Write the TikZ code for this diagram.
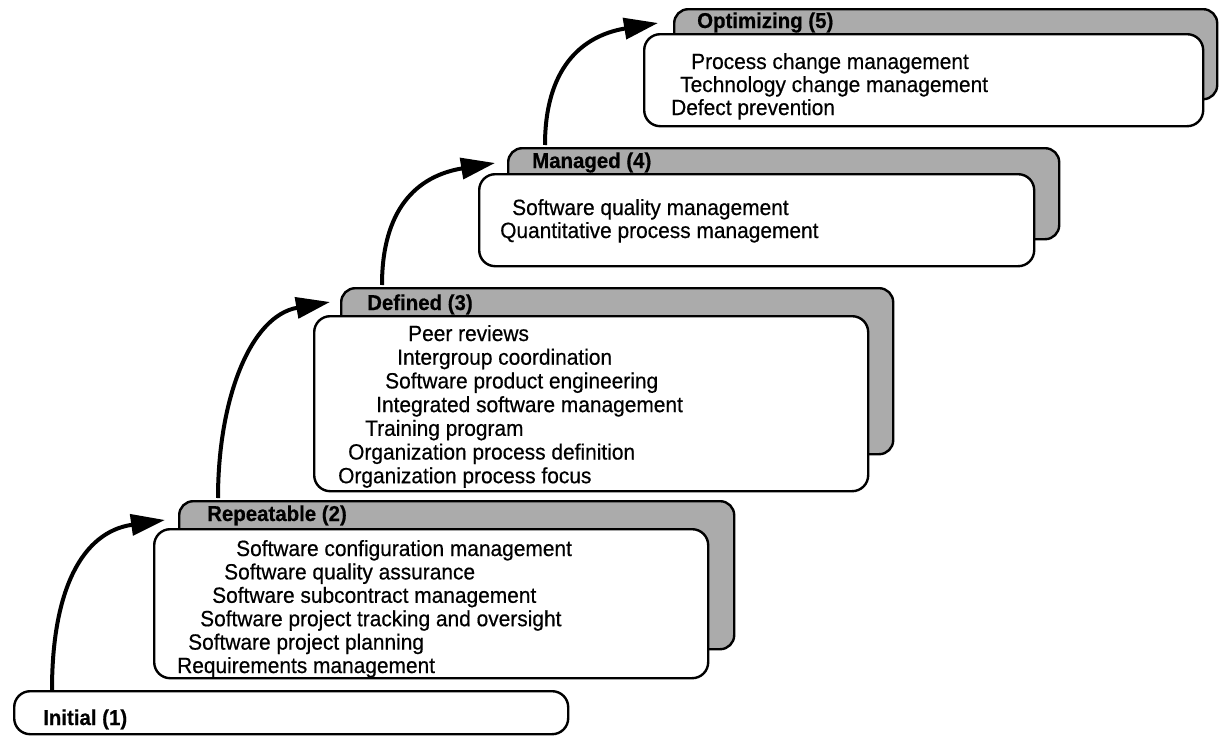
\documentclass[tikz,border=0pt]{standalone}
\usepackage{fontspec}
\setmainfont{Liberation Sans}[FakeBold=0.5,FakeStretch=0.95]
\usetikzlibrary{arrows.meta}
\begin{document}
\begin{tikzpicture}[x=1pt,y=-1pt,
  tabbox/.style={draw=black, line width=2.4pt, fill=black!33, rounded corners=14pt, anchor=north west, inner sep=0pt},
  card/.style={draw=black, line width=2.4pt, fill=white, rounded corners=16pt, anchor=north west, inner sep=0pt},
  item/.style={anchor=base west, inner sep=0pt, font=\fontsize{22}{25}\selectfont},
  tablabel/.style={anchor=base west, inner sep=0pt, font=\fontsize{21.5}{25}\selectfont\bfseries},
  stepArrow/.style={line width=4pt, -{Triangle[length=34pt,width=21pt]}}]
\useasboundingbox (0,0) rectangle (1219,736);

% Initial (1)
\node[card, minimum width=554pt, minimum height=43pt] (init) at (13,690) {};
\node[tablabel] (initlbl) at (43,725) {Initial (1)};

% Repeatable (2)
\node[tabbox, minimum width=555pt, minimum height=148pt] (reptab) at (178,500) {};
\node[card, minimum width=554pt, minimum height=149pt] (rep) at (153,528) {};
\node[tablabel] (replbl) at (207,521) {Repeatable (2)};
\node[item] (r1) at (236,556) {Software configuration management};
\node[item] (r2) at (224,579.4) {Software quality assurance};
\node[item] (r3) at (212,602.8) {Software subcontract management};
\node[item] (r4) at (200,626.2) {Software project tracking and oversight};
\node[item] (r5) at (188,649.6) {Software project planning};
\node[item] (r6) at (177,673) {Requirements management};

% Defined (3)
\node[tabbox, minimum width=552pt, minimum height=166pt] (deftab) at (340,287) {};
\node[card, minimum width=554pt, minimum height=175pt] (def) at (313,315) {};
\node[tablabel] (deflbl) at (367,310) {Defined (3)};
\node[item] (d1) at (408,341) {Peer reviews};
\node[item] (d2) at (397,364.7) {Intergroup coordination};
\node[item] (d3) at (385,388.4) {Software product engineering};
\node[item] (d4) at (376,412.1) {Integrated software management};
\node[item] (d5) at (365,435.8) {Training program};
\node[item] (d6) at (348,459.5) {Organization process definition};
\node[item] (d7) at (338,483.2) {Organization process focus};

% Managed (4)
\node[tabbox, minimum width=551pt, minimum height=91pt] (mantab) at (507,147) {};
\node[card, minimum width=555pt, minimum height=92pt] (man) at (478,173) {};
\node[tablabel] (manlbl) at (532,168) {Managed (4)};
\node[item] (m1) at (512,215) {Software quality management};
\node[item] (m2) at (500,238) {Quantitative process management};

% Optimizing (5)
\node[tabbox, minimum width=543pt, minimum height=90pt] (opttab) at (673,8) {};
\node[card, minimum width=559pt, minimum height=92pt] (opt) at (643,33) {};
\node[tablabel] (optlbl) at (697,28) {Optimizing (5)};
\node[item] (o1) at (691,69) {Process change management};
\node[item] (o2) at (680,92) {Technology change management};
\node[item] (o3) at (671,115) {Defect prevention};

% arrows
\coordinate (a1s) at (52,690);  \coordinate (a1e) at (165,520);
\coordinate (a2s) at (218,498); \coordinate (a2e) at (330,302);
\coordinate (a3s) at (382,285); \coordinate (a3e) at (495,163);
\coordinate (a4s) at (545,145); \coordinate (a4e) at (658,23);
\draw[stepArrow] (a1s) .. controls (52,590) and (82,532) .. (a1e);
\draw[stepArrow] (a2s) .. controls (218,400) and (250,316) .. (a2e);
\draw[stepArrow] (a3s) .. controls (382,210) and (416,176) .. (a3e);
\draw[stepArrow] (a4s) .. controls (545,70) and (580,36) .. (a4e);
\end{tikzpicture}
\end{document}
